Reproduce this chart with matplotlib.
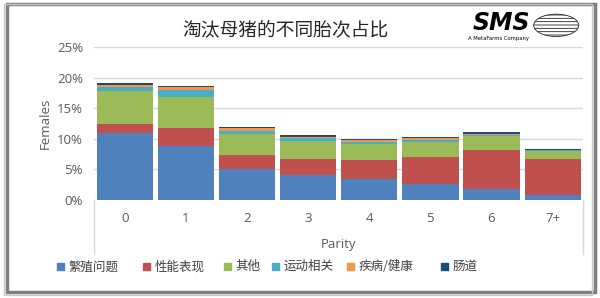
import numpy as np
import matplotlib.pyplot as plt
from matplotlib.patches import Rectangle, Ellipse

plt.rcParams['font.family'] = ['Open Sans', 'Noto Sans CJK SC', 'DejaVu Sans']
plt.rcParams['hatch.linewidth'] = 0.6

parity = ['0', '1', '2', '3', '4', '5', '6', '7+']
causes = ['繁殖问题', '性能表现', '其他', '运动相关', '疾病/健康', '肠道']
colors = ['#4F81BD', '#C0504D', '#9BBB59', '#4BACC6', '#F79646', '#1F497D']

# share of culled females (%), one list per cause
repro = [10.9, 8.8, 5.0, 4.0, 3.4, 2.6, 1.8, 0.8]
perf = [1.6, 2.9, 2.4, 2.7, 3.2, 4.4, 6.3, 5.95]
other = [5.3, 5.2, 3.4, 2.9, 2.5, 2.5, 2.4, 1.25]
locomotion = [0.7, 1.1, 0.5, 0.5, 0.3, 0.35, 0.2, 0.1]
disease = [0.3, 0.4, 0.4, 0.2, 0.35, 0.35, 0.1, 0.05]
gut = [0.3, 0.2, 0.2, 0.3, 0.25, 0.15, 0.3, 0.15]

series = [repro, perf, other, locomotion, disease, gut]

fig = plt.figure(figsize=(6, 2.98), dpi=100)
ax = fig.add_axes([0.157, 0.329, 0.815, 0.513])

x = np.arange(len(parity))
bottom = np.zeros(len(parity))
for vals, col in zip(series, colors):
    v = np.array(vals) / 100
    ax.bar(x, v, 0.92, bottom=bottom, color=col, zorder=3)
    bottom += v

ax.set_xlim(-0.5, len(parity) - 0.5)
ax.set_ylim(0, 0.25)
ticks = np.arange(0, 0.26, 0.05)
ax.set_yticks(ticks)
ax.set_yticklabels([f'{int(round(t * 100))}%' for t in ticks])
ax.grid(axis='y', color='#D9D9D9', lw=1, zorder=0)
for s in ax.spines.values():
    s.set_visible(False)
ax.tick_params(length=0, labelsize=9.5, colors='#595959')
ax.tick_params(axis='x', pad=9)
ax.tick_params(axis='y', pad=8)
ax.set_xticks(x)
ax.set_xticklabels(parity)
ax.set_ylabel('Females', fontsize=9.5, color='#595959', labelpad=4)

# category box under the plot
for xb in [0.0, 1.0]:
    ax.plot([xb, xb], [0, -0.355], transform=ax.transAxes, color='#D9D9D9',
            lw=1, clip_on=False)
ax.text(0.5, -0.29, 'Parity', transform=ax.transAxes, ha='center', va='center',
        fontsize=9.5, color='#595959')

fig.text(0.476, 0.9, '淘汰母猪的不同胎次占比', ha='center', va='center',
         fontsize=13.5, color='#262626', family=['Noto Sans CJK SC', 'DejaVu Sans'])

# legend laid out like the Excel one
leg_x = [0.095, 0.238, 0.373, 0.453, 0.578, 0.735]
for lx, name, col in zip(leg_x, causes, colors):
    fig.patches.append(Rectangle((lx, 0.093), 0.012, 0.024, color=col,
                                 transform=fig.transFigure))
    fig.text(lx + 0.02, 0.105, name, ha='left', va='center', fontsize=9,
             color='#404040', family=['Noto Sans CJK SC', 'DejaVu Sans'])

# logo
fig.text(0.835, 0.922, 'SMS', ha='center', va='center', fontsize=17,
         fontweight='heavy', style='italic', family='DejaVu Sans', color='black')
fig.text(0.83, 0.872, 'A MetaFarms Company', ha='center', va='center',
         fontsize=3.8, color='black', family='DejaVu Sans')
fig.patches.append(Ellipse((0.927, 0.915), 0.075, 0.075, fill=False,
                           edgecolor='#222222', lw=0.6, hatch='-----',
                           transform=fig.transFigure))

# frame with shadow
fig.patches.append(Rectangle((0.012, 0.02), 0.98, 0.965, fill=False,
                             edgecolor='#7F7F7F', lw=2.5,
                             transform=fig.transFigure))
fig.patches.append(Rectangle((0.006, 0.01), 0.98, 0.975, fill=False,
                             edgecolor='#C8C8C8', lw=1,
                             transform=fig.transFigure))

fig.savefig('out.png', dpi=100, facecolor='white')
